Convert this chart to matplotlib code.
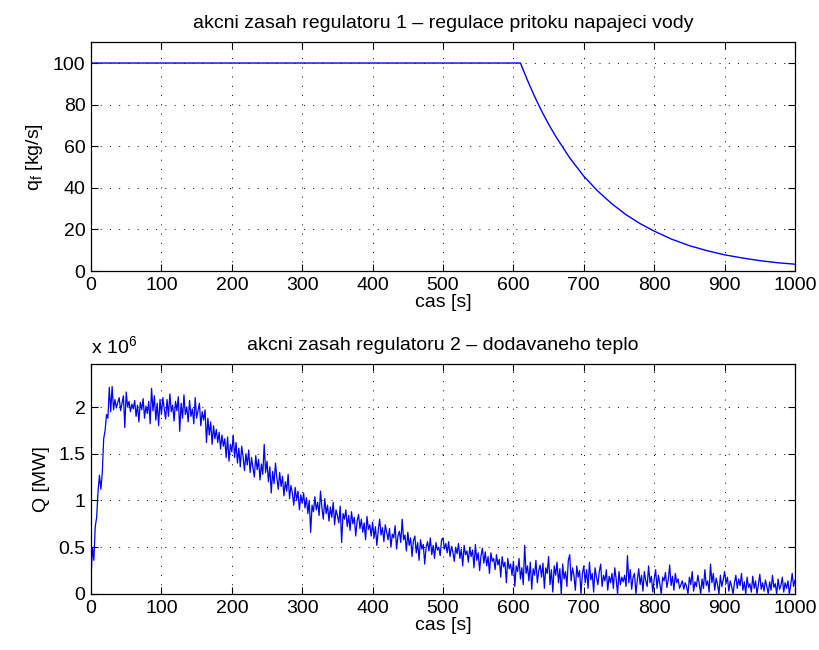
import numpy as np
import matplotlib
matplotlib.use("Agg")
import matplotlib.pyplot as plt
from matplotlib.ticker import FuncFormatter

plt.rcParams['font.family'] = ['Liberation Sans', 'DejaVu Sans']
plt.rcParams['mathtext.default'] = 'regular'

# regulator 1 output: feed water flow [kg/s]
qf_t = [0, 610, 620, 630, 640, 650, 660, 680, 700, 720, 740, 760, 780,
        800, 825, 850, 875, 900, 925, 950, 975, 1000]
qf_val = [100, 100, 91.7, 84.0, 77.0, 70.6, 64.8, 54.4, 45.6, 38.4, 32.3,
          27.1, 22.8, 19.2, 15.3, 12.2, 9.8, 7.8, 6.3, 5.0, 4.0, 3.3]

# regulator 2 output: heat input, in units of 1e6, one value every 2 s
Q_step = 2
Q_val = [
    0.17, 0.50, 0.36, 0.72, 0.82, 1.10, 1.27, 1.12, 1.30, 1.66,
    1.75, 1.92, 1.88, 2.21, 1.95, 2.22, 1.97, 2.08, 1.99, 2.05,
    2.10, 1.96, 2.04, 2.12, 1.78, 2.16, 2.00, 2.06, 1.95, 2.03,
    1.98, 2.07, 1.90, 2.02, 1.84, 2.05, 1.97, 2.09, 1.88, 2.01,
    1.93, 2.06, 1.82, 2.20, 1.96, 2.12, 1.86, 2.04, 1.80, 2.08,
    1.92, 2.10, 1.98, 1.87, 2.08, 1.90, 2.14, 1.95, 2.02, 1.85,
    2.06, 1.96, 2.11, 1.74, 2.04, 1.88, 2.13, 1.92, 2.00, 1.84,
    2.07, 1.90, 1.98, 1.82, 2.10, 1.88, 1.96, 2.04, 1.80, 1.95,
    1.86, 1.97, 1.62, 1.88, 1.70, 1.84, 1.60, 1.80, 1.66, 1.76,
    1.62, 1.73, 1.55, 1.70, 1.58, 1.66, 1.46, 1.68, 1.42, 1.60,
    1.52, 1.70, 1.46, 1.62, 1.40, 1.56, 1.36, 1.58, 1.47, 1.32,
    1.50, 1.38, 1.54, 1.30, 1.46, 1.35, 1.25, 1.48, 1.33, 1.44,
    1.22, 1.39, 1.28, 1.60, 1.30, 1.42, 1.20, 1.36, 1.08, 1.31,
    1.18, 1.40, 1.24, 1.12, 1.30, 1.15, 1.26, 1.05, 1.20, 1.10,
    1.28, 1.02, 1.16, 1.08, 0.95, 1.14, 1.00, 1.10, 0.90, 1.06,
    0.97, 1.08, 0.92, 1.03, 0.86, 1.00, 0.66, 0.95, 0.88, 1.04,
    0.90, 0.98, 0.84, 1.10, 0.92, 0.80, 1.02, 0.86, 0.95, 0.78,
    0.93, 0.82, 0.98, 0.74, 0.90, 0.84, 0.76, 0.94, 0.55, 0.86,
    0.80, 0.90, 0.72, 0.84, 0.68, 0.88, 0.75, 0.82, 0.62, 0.78,
    0.85, 0.70, 0.80, 0.66, 0.76, 0.58, 0.83, 0.69, 0.74, 0.62,
    0.77, 0.60, 0.72, 0.52, 0.68, 0.80, 0.63, 0.71, 0.56, 0.74,
    0.66, 0.58, 0.70, 0.50, 0.64, 0.60, 0.73, 0.48, 0.62, 0.67,
    0.55, 0.80, 0.58, 0.63, 0.46, 0.66, 0.52, 0.60, 0.40, 0.57,
    0.62, 0.44, 0.55, 0.36, 0.58, 0.48, 0.53, 0.32, 0.50, 0.56,
    0.46, 0.60, 0.42, 0.52, 0.38, 0.55, 0.47, 0.50, 0.41, 0.58,
    0.60, 0.48, 0.54, 0.44, 0.56, 0.40, 0.51, 0.45, 0.35, 0.50,
    0.43, 0.54, 0.38, 0.48, 0.30, 0.52, 0.42, 0.46, 0.34, 0.50,
    0.40, 0.47, 0.28, 0.53, 0.36, 0.44, 0.25, 0.41, 0.49, 0.33,
    0.45, 0.30, 0.40, 0.22, 0.44, 0.35, 0.38, 0.26, 0.42, 0.31,
    0.37, 0.18, 0.40, 0.29, 0.34, 0.12, 0.38, 0.27, 0.32, 0.20,
    0.35, 0.08, 0.30, 0.24, 0.38, 0.16, 0.28, 0.10, 0.52, 0.22,
    0.30, 0.14, 0.34, 0.05, 0.27, 0.20, 0.36, 0.12, 0.25, 0.31,
    0.18, 0.33, 0.06, 0.28, 0.22, 0.40, 0.10, 0.26, 0.02, 0.30,
    0.20, 0.34, 0.12, 0.27, 0.00, 0.32, 0.16, 0.24, 0.08, 0.36,
    0.42, 0.14, 0.28, 0.20, 0.04, 0.30, 0.18, 0.25, 0.00, 0.22,
    0.30, 0.12, 0.26, 0.06, 0.34, 0.15, 0.22, 0.02, 0.28, 0.18,
    0.10, 0.24, 0.32, 0.08, 0.20, 0.14, 0.26, 0.04, 0.19, 0.12,
    0.22, 0.06, 0.28, 0.16, 0.00, 0.24, 0.10, 0.18, 0.13, 0.20,
    0.08, 0.41, 0.12, 0.26, 0.05, 0.18, 0.22, 0.00, 0.15, 0.27,
    0.10, 0.20, 0.03, 0.24, 0.14, 0.08, 0.30, 0.12, 0.19, 0.02,
    0.16, 0.26, 0.06, 0.20, 0.11, 0.00, 0.18, 0.14, 0.23, 0.07,
    0.15, 0.31, 0.09, 0.19, 0.04, 0.22, 0.12, 0.16, 0.06, 0.10,
    0.14, 0.05, 0.12, 0.08, 0.00, 0.18, 0.10, 0.24, 0.03, 0.13,
    0.08, 0.20, 0.11, 0.00, 0.16, 0.06, 0.26, 0.09, 0.14, 0.02,
    0.32, 0.12, 0.22, 0.04, 0.17, 0.10, 0.00, 0.20, 0.08, 0.15,
    0.24, 0.11, 0.18, 0.03, 0.14, 0.08, 0.00, 0.12, 0.20, 0.06,
    0.16, 0.09, 0.22, 0.04, 0.13, 0.00, 0.18, 0.07, 0.11, 0.02,
    0.19, 0.06, 0.14, 0.00, 0.10, 0.21, 0.05, 0.12, 0.03, 0.15,
    0.08, 0.00, 0.13, 0.04, 0.20, 0.07, 0.11, 0.00, 0.16, 0.05,
    0.09, 0.18, 0.02, 0.12, 0.06, 0.14, 0.00, 0.10, 0.22, 0.08,
    0.15,
]
Q_t = np.arange(len(Q_val)) * Q_step
Q_watts = np.array(Q_val) * 1e6

x_ticks = np.arange(0, 1001, 100)

fig = plt.figure(figsize=(8.2, 6.5), dpi=100)
ax1 = fig.add_axes([0.111, 0.583, 0.8585, 0.352])
ax2 = fig.add_axes([0.111, 0.0862, 0.8585, 0.3538])


def matlab_style(ax):
    ax.grid(True, color='black', linestyle=(0, (1, 8.5)), linewidth=0.7)
    ax.tick_params(direction='in', top=True, right=True, length=5,
                   width=0.8, labelsize=14, pad=4)
    for s in ax.spines.values():
        s.set_linewidth(0.9)
    ax.set_xlim(0, 1000)
    ax.set_xticks(x_ticks)
    ax.set_xlabel('cas [s]', fontsize=14, labelpad=0)


ax1.plot(qf_t, qf_val, color='blue', linewidth=1.0)
matlab_style(ax1)
ax1.set_ylim(0, 110)
ax1.set_yticks(np.arange(0, 101, 20))
ax1.set_ylabel('q$_f$ [kg/s]', fontsize=14, labelpad=6)
ax1.set_title('akcni zasah regulatoru 1 \u2013 regulace pritoku napajeci vody',
              fontsize=14, pad=10)

ax2.plot(Q_t, Q_watts, color='blue', linewidth=0.9)
matlab_style(ax2)
ax2.set_ylim(0, 2.46e6)
ax2.set_yticks(np.arange(0, 2.01e6, 0.5e6))
ax2.yaxis.set_major_formatter(FuncFormatter(lambda v, p: '%g' % (v / 1e6)))
ax2.set_ylabel('Q [MW]', fontsize=14, labelpad=6)
ax2.set_title('akcni zasah regulatoru 2 \u2013 dodavaneho teplo',
              fontsize=14, pad=10)
ax2.text(0.0, 1.03, 'x 10$^{6}$', transform=ax2.transAxes,
         ha='left', va='bottom', fontsize=14)

fig.savefig('out.png', dpi=100)
